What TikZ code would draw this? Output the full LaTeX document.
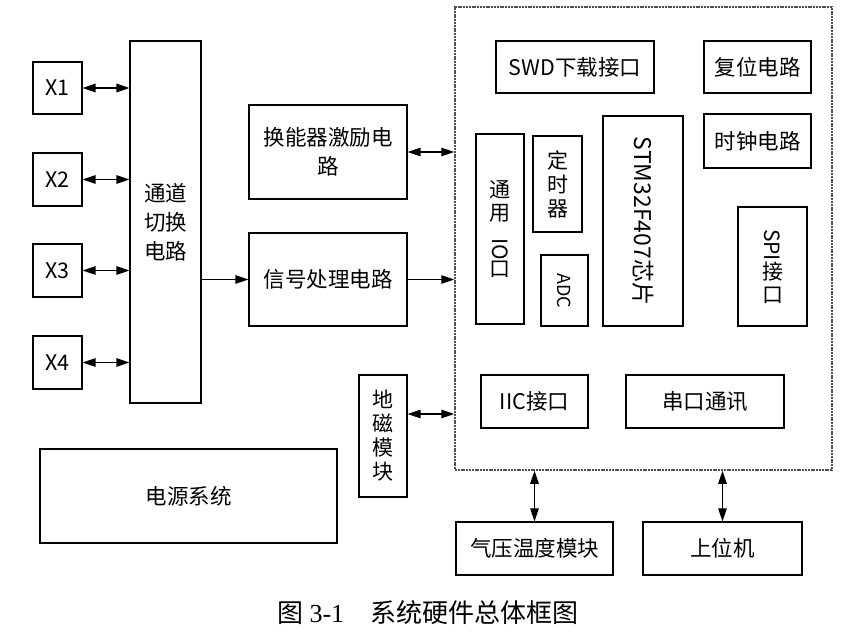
\documentclass[tikz,border=0pt]{standalone}
\usepackage{fontspec}
\usepackage{graphicx}
\setmainfont{Noto Sans CJK SC}
\newfontfamily\capserif{Liberation Serif}
\usetikzlibrary{arrows.meta}
\definecolor{framegrey}{RGB}{80,80,80}
\tikzset{
  blk/.style={draw=black,line width=1.1pt,align=center,inner sep=1pt,font=\fontsize{21.5}{29}\selectfont},
  sz/.style 2 args={minimum width=#1,minimum height=#2},
  mcuframe/.style={draw=framegrey,line width=1.5pt,dash pattern=on 2pt off 0.8pt},
  link/.style={-{Triangle[length=13pt,width=8.5pt]},line width=1.2pt},
  dlink/.style={{Triangle[length=13pt,width=8.5pt]}-{Triangle[length=13pt,width=8.5pt]},line width=1.2pt},
  captxt/.style={font=\fontsize{26}{30}\selectfont}
}

\begin{document}
\begin{tikzpicture}[x=1pt,y=-1pt]
  \useasboundingbox (0,0) rectangle (852,637);
  % probes
  \node[blk,sz={49}{52}] (x1) at (57.5,88) {X1};
  \node[blk,sz={49}{53}] (x2) at (57.5,179.5) {X2};
  \node[blk,sz={49}{53}] (x3) at (57.5,270.5) {X3};
  \node[blk,sz={49}{53}] (x4) at (57.5,362.5) {X4};
  \node[blk,sz={71}{362}] (sw) at (165.5,222) {通道\\切换\\电路};
  % analog front end
  \node[blk,sz={158}{94}] (drv) at (328,152) {换能器激励电\\路};
  \node[blk,sz={158}{93}] (sig) at (328,279.5) {信号处理电路};
  \node[blk,sz={48}{122},font=\fontsize{21}{24}\selectfont] (geo) at (383,436) {地\\磁\\模\\块};
  \node[blk,sz={297}{94}] (pwr) at (188.5,496) {电源系统};
  % controller board
  \node[mcuframe,sz={377}{463}] (mcu) at (643.5,238.5) {};
  \node[blk,sz={158}{52}] (swd) at (575,67) {SWD下载接口};
  \node[blk,sz={107}{52}] (rst) at (757.5,67) {复位电路};
  \node[blk,sz={107}{54}] (clk) at (757.5,141) {时钟电路};
  \node[blk,sz={80}{210}] (stm) at (643,221) {\rotatebox{-90}{\fontsize{23}{28}\selectfont STM32F407芯片}};
  \node[blk,sz={48}{190},font=\fontsize{21}{23}\selectfont] (gio) at (500,229) {通\\用\\[-5pt]\rotatebox{-90}{IO}\\口};
  \node[blk,sz={49}{96},font=\fontsize{21}{24}\selectfont] (tim) at (557.5,184) {定\\时\\器};
  \node[blk,sz={47}{71}] (adc) at (564.5,290.5) {\rotatebox{-90}{\fontsize{18}{22}\selectfont ADC}};
  \node[blk,sz={69}{119},font=\fontsize{21}{23}\selectfont] (spi) at (772.5,266.5) {\rotatebox{-90}{SPI}\\接\\口};
  \node[blk,sz={107}{53}] (iic) at (534.5,401.5) {IIC接口};
  \node[blk,sz={158}{53}] (uart) at (705,401.5) {串口通讯};
  % outside the board
  \node[blk,sz={157}{53}] (baro) at (534.5,548.5) {气压温度模块};
  \node[blk,sz={159}{53}] (host) at (722.5,548.5) {上位机};
  \node[captxt] (cap) at (428,613) {图 {\capserif 3-1}\quad 系统硬件总体框图};
  % connections
  \foreach \p in {x1,x2,x3,x4}
    \draw[dlink] (\p.east) -- (\p.east -| sw.west);
  \draw[link] (sig.west -| sw.east) -- (sig.west);
  \draw[link] (sig.east) -- (sig.east -| mcu.west);
  \draw[dlink] (drv.east) -- (drv.east -| mcu.west);
  \draw[dlink] (geo.east |- 0,414) -- (mcu.west |- 0,414);
  \draw[dlink] (mcu.south -| baro.north) -- (baro.north);
  \draw[dlink] (mcu.south -| host.north) -- (host.north);
\end{tikzpicture}
\end{document}
